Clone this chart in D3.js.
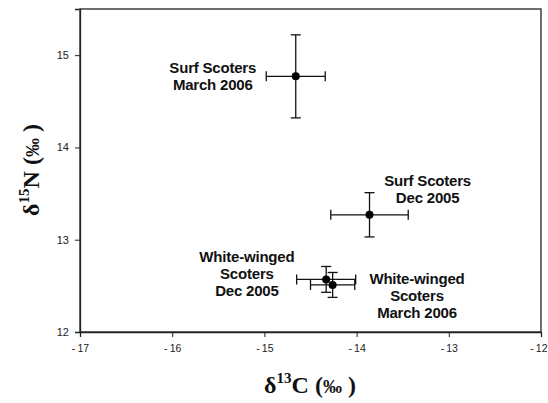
<!DOCTYPE html>
<html>
<head>
<meta charset="utf-8">
<script src="https://cdn.jsdelivr.net/npm/d3@7"></script>
<style>
  body { margin: 0; background: #fff; }
  svg { display: block; }
  .tick text { font-family: "Liberation Sans", Arial, sans-serif; font-size: 11px; fill: #222; }
  .tick line, .domain { stroke: #222; }
  .lbl { font-family: "Liberation Sans", Arial, sans-serif; font-size: 15px; font-weight: bold; fill: #111; letter-spacing: -0.2px; }
  .title { font-family: "Liberation Serif", "Times New Roman", serif; font-weight: bold; fill: #111; }
</style>
</head>
<body>
<svg width="548" height="403"></svg>
<script>
const svg = d3.select("svg");
const margin = { top: 9, right: 7, bottom: 71, left: 80 };
const width = +svg.attr("width") - margin.left - margin.right;
const height = +svg.attr("height") - margin.top - margin.bottom;

// group names and stable isotope values (mean +/- error)
const groups = ["Surf Scoters March 2006", "Surf Scoters Dec 2005", "White-winged Scoters Dec 2005", "White-winged Scoters March 2006"];
const carbon = [-14.66, -13.86, -14.33, -14.26];
const carbonErr = [0.32, 0.42, 0.32, 0.24];
const nitrogen = [14.77, 13.27, 12.57, 12.51];
const nitrogenErr = [0.45, 0.24, 0.14, 0.135];

// annotation text lines and anchor of first baseline (in data units)
const labelLines = [
    ["Surf Scoters", "March 2006"],
    ["Surf Scoters", "Dec 2005"],
    ["White-winged", "Scoters", "Dec 2005"],
    ["White-winged", "Scoters", "March 2006"]
];
const labelX = [-15.56, -13.23, -15.19, -13.345];
const labelY = [14.81, 13.585, 12.757, 12.52];

const xTicks = [-17, -16, -15, -14, -13, -12];
const yTicks = [12, 13, 14, 15];

const x = d3.scaleLinear().domain([-17, -12]).range([0, width]);
const y = d3.scaleLinear().domain([12, 15.5]).range([height, 0]);

const g = svg.append("g")
    .attr("transform", "translate(" + margin.left + "," + margin.top + ")");

// frame
g.append("rect")
    .attr("width", width)
    .attr("height", height)
    .attr("fill", "none")
    .attr("stroke", "#222")
    .attr("stroke-width", 1.3);

g.append("g")
    .attr("transform", "translate(0," + height + ")")
    .call(d3.axisBottom(x).tickValues(xTicks).tickSize(5).tickPadding(8)
        .tickFormat(d => "-\u2009" + Math.abs(d)))
    .call(a => a.select(".domain").attr("stroke-width", 1.3))
    .call(a => a.selectAll(".tick text").style("font-size", "10.5px"))
    // last label sits on the window edge, keep it inside
    .call(a => a.selectAll(".tick text").filter(d => d === -12)
        .attr("text-anchor", "end").attr("dx", 6));

g.append("g")
    .call(d3.axisLeft(y).tickValues(yTicks).tickSize(5).tickPadding(6).tickFormat(d3.format("d")))
    .call(a => a.select(".domain").attr("stroke-width", 1.3));

// error bars
const pts = groups.map((name, i) => ({
    name: name, c: carbon[i], ce: carbonErr[i], n: nitrogen[i], ne: nitrogenErr[i]
}));
const cap = 5;
const bars = g.selectAll(".bar").data(pts).enter().append("g")
    .attr("class", "bar")
    .attr("stroke", "#111")
    .attr("stroke-width", 1.3);

bars.append("line")
    .attr("x1", d => x(d.c - d.ce)).attr("x2", d => x(d.c + d.ce))
    .attr("y1", d => y(d.n)).attr("y2", d => y(d.n));
bars.append("line")
    .attr("x1", d => x(d.c)).attr("x2", d => x(d.c))
    .attr("y1", d => y(d.n - d.ne)).attr("y2", d => y(d.n + d.ne));
// caps
[-1, 1].forEach(s => {
    bars.append("line")
        .attr("x1", d => x(d.c + s * d.ce)).attr("x2", d => x(d.c + s * d.ce))
        .attr("y1", d => y(d.n) - cap).attr("y2", d => y(d.n) + cap);
    bars.append("line")
        .attr("x1", d => x(d.c) - cap).attr("x2", d => x(d.c) + cap)
        .attr("y1", d => y(d.n + s * d.ne)).attr("y2", d => y(d.n + s * d.ne));
});

g.selectAll(".dot").data(pts).enter().append("circle")
    .attr("class", "dot")
    .attr("cx", d => x(d.c))
    .attr("cy", d => y(d.n))
    .attr("r", 4)
    .attr("fill", "#000");

// annotations
labelLines.forEach((lines, i) => {
    const t = g.append("text")
        .attr("class", "lbl")
        .attr("text-anchor", "middle")
        .attr("x", x(labelX[i]))
        .attr("y", y(labelY[i]));
    lines.forEach((s, j) => {
        t.append("tspan")
            .attr("x", x(labelX[i]))
            .attr("dy", j === 0 ? 0 : 17)
            .text(s);
    });
});

// axis titles
function titleParts(t, sup, letter) {
    t.append("tspan").text("δ");
    t.append("tspan").attr("dy", -10).style("font-size", "15px").text(sup);
    t.append("tspan").attr("dy", 10).text(letter + " (");
    t.append("tspan").style("font-size", "19px").text("‰");
    t.append("tspan").text(" )");
}

const xt = svg.append("text")
    .attr("class", "title")
    .attr("text-anchor", "middle")
    .attr("x", 310)
    .attr("y", 393)
    .style("font-size", "24px");
titleParts(xt, "13", "C");

const yt = svg.append("text")
    .attr("class", "title")
    .attr("text-anchor", "middle")
    .attr("transform", "translate(39,170) rotate(-90)")
    .style("font-size", "24px");
titleParts(yt, "15", "N");
</script>
</body>
</html>
